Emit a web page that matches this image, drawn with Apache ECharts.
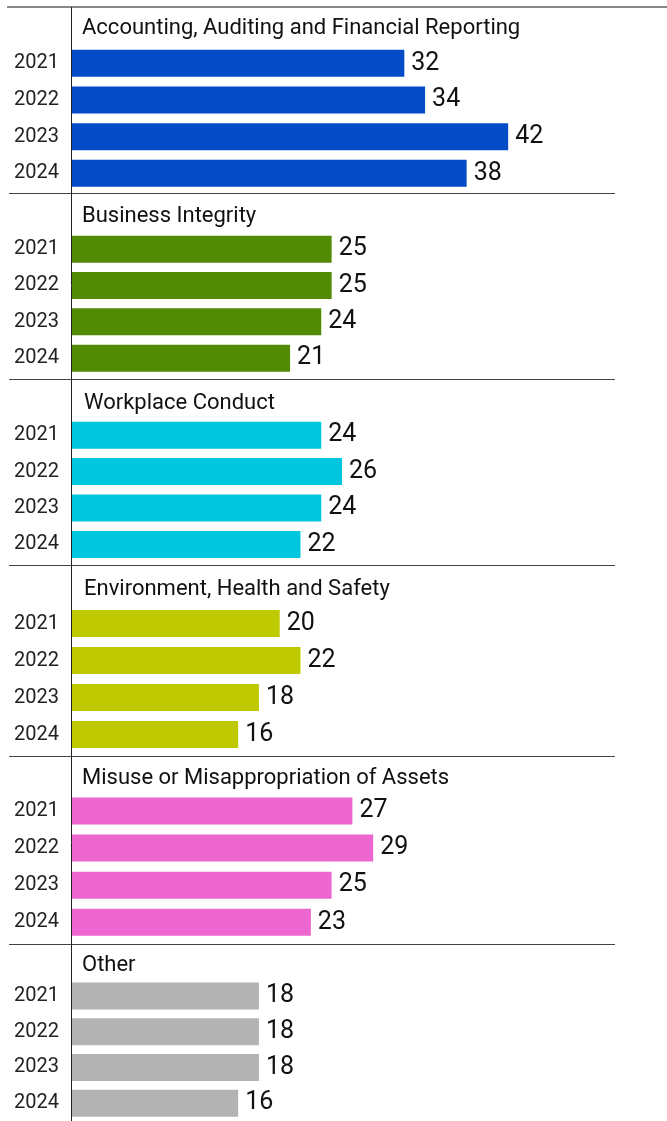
<!DOCTYPE html>
<html>
<head>
<meta charset="utf-8">
<script src="https://cdn.jsdelivr.net/npm/echarts@6/dist/echarts.min.js"></script>
<style>
html,body{margin:0;padding:0;background:#fff;}
#chart{width:667px;height:1121px;}
</style>
</head>
<body>
<div id="chart"></div>
<script>
const years = ['2021', '2022', '2023', '2024'];
const categories = [
  'Accounting, Auditing and Financial Reporting',
  'Business Integrity',
  'Workplace Conduct',
  'Environment, Health and Safety',
  'Misuse or Misappropriation of Assets',
  'Other'
];
const accounting = [32, 34, 42, 38];
const businessIntegrity = [25, 25, 24, 21];
const workplaceConduct = [24, 26, 24, 22];
const environmentHealthSafety = [20, 22, 18, 16];
const misuseAssets = [27, 29, 25, 23];
const other = [18, 18, 18, 16];

const seriesValues = [accounting, businessIntegrity, workplaceConduct, environmentHealthSafety, misuseAssets, other];
const colors = ['#044CC5', '#528A03', '#00C6DE', '#BFC900', '#EE67D0', '#B3B3B3'];

// layout per section
const sepY = [7, 193, 379, 565, 756, 944];
const gridTop = [45, 231, 417, 605, 792.4, 978.1];
const gridH = [146.7, 145.3, 145.6, 148, 148.4, 148.8];
const titleY = [28.5, 216.5, 403, 589.5, 778, 965.5];
const titleX = [82, 82, 84, 84, 82, 82];

const xMax = 50;
const pxPerUnit = 10.385;
const gridLeft = 72;

const grids = [], xAxes = [], yAxes = [], series = [], graphics = [];
seriesValues.forEach((vals, i) => {
  grids.push({ left: gridLeft, top: gridTop[i], width: xMax * pxPerUnit, height: gridH[i], containLabel: false });
  xAxes.push({ type: 'value', gridIndex: i, min: 0, max: xMax, show: false });
  yAxes.push({
    type: 'category', gridIndex: i, data: years, inverse: true,
    axisLine: { show: false }, axisTick: { show: false }, splitLine: { show: false },
    axisLabel: { align: 'left', margin: 58, fontFamily: 'Roboto', fontSize: 20, color: '#222' }
  });
  series.push({
    type: 'bar', xAxisIndex: i, yAxisIndex: i, data: vals, barWidth: 27,
    itemStyle: { color: colors[i] },
    label: { show: true, position: 'right', distance: 7, fontFamily: 'Roboto', fontSize: 25, color: '#111' },
    silent: true, animation: false
  });
  graphics.push({
    type: 'text', x: titleX[i], y: titleY[i],
    style: { text: categories[i], font: '22px Roboto', fill: '#111', textVerticalAlign: 'middle', verticalAlign: 'middle' }
  });
  if (i > 0) {
    graphics.push({
      type: 'line', shape: { x1: 9, y1: sepY[i] + 0.5, x2: 615, y2: sepY[i] + 0.5 },
      style: { stroke: '#444', lineWidth: 1 }
    });
  }
});
graphics.push({ type: 'line', shape: { x1: 7, y1: 7, x2: 667, y2: 7 }, style: { stroke: '#888', lineWidth: 2 } });
graphics.push({ type: 'line', shape: { x1: 71.5, y1: 7, x2: 71.5, y2: 1121 }, style: { stroke: '#222', lineWidth: 1 } });

const chart = echarts.init(document.getElementById('chart'), null, { renderer: 'canvas' });
chart.setOption({
  animation: false,
  backgroundColor: '#fff',
  grid: grids,
  xAxis: xAxes,
  yAxis: yAxes,
  series: series,
  graphic: graphics
});
</script>
</body>
</html>
